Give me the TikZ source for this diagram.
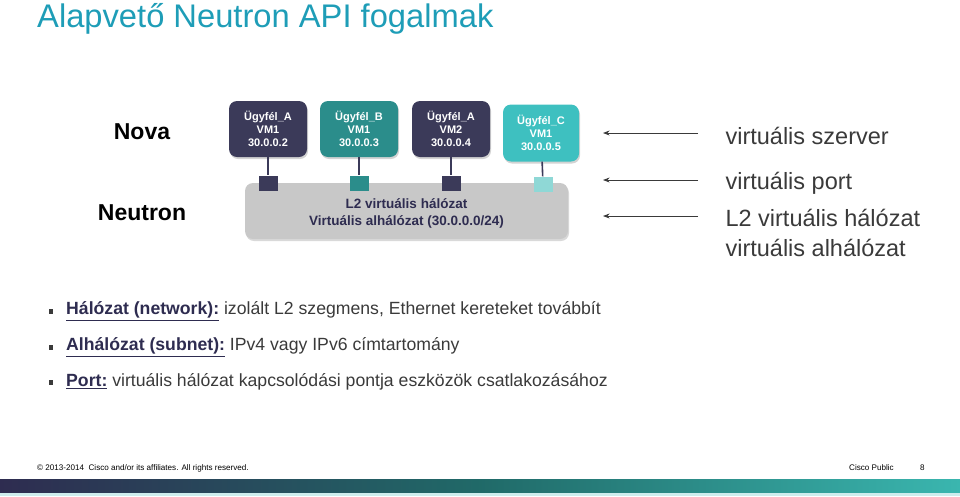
\documentclass[tikz,border=0pt]{standalone}
\usepackage{fontspec}
\setmainfont{Liberation Sans}
\usepackage{xcolor}
\usetikzlibrary{positioning,arrows.meta,shadows}

\definecolor{titleteal}{HTML}{1E9DB7}
\definecolor{vmdark}{HTML}{3B3A59}
\definecolor{vmteal}{HTML}{2B8D8B}
\definecolor{vmlight}{HTML}{3EC0C0}
\definecolor{portlight}{HTML}{8FD8D6}
\definecolor{netgray}{HTML}{C8C8C8}
\definecolor{textnavy}{HTML}{2E2C50}
\definecolor{bodygray}{HTML}{3A3A3A}
\definecolor{barend}{HTML}{3AB6AF}

\begin{document}
\begin{tikzpicture}[
  x=1pt, y=-1pt,
  vm/.style={rounded corners=8pt, text=white, align=center, minimum width=78pt, minimum height=56pt,
    font=\fontsize{11}{13}\selectfont\bfseries, drop shadow={opacity=0.35, shadow xshift=1pt, shadow yshift=-2pt}},
  port/.style={minimum width=19pt, minimum height=15pt, inner sep=0pt},
  lbl/.style={anchor=west, text=bodygray, font=\fontsize{23.5}{28}\selectfont},
  side/.style={font=\fontsize{23}{28}\selectfont\bfseries},
  bullet/.style={anchor=west, text=bodygray, font=\fontsize{17.65}{21}\selectfont, inner sep=0pt},
  foot/.style={anchor=west, inner sep=0pt, font=\fontsize{8.1}{10}\selectfont},
  >=Stealth
]
\useasboundingbox (0,0) rectangle (960,496);

% title
\node[anchor=base west, inner sep=0pt, text=titleteal, font=\fontsize{32.7}{38}\selectfont] (title) at (37,27) {Alapvető Neutron API fogalmak};

% Nova / Neutron
\node[side] (nova) at (142,132) {Nova};
\node[side] (neutron) at (142,213) {Neutron};

% network
\node[fill=netgray, rounded corners=8pt, minimum width=323pt, minimum height=56pt, align=center,
  text=textnavy, font=\fontsize{13.5}{17}\selectfont\bfseries,
  drop shadow={opacity=0.3, shadow xshift=1pt, shadow yshift=-2pt}] (net) at (406.5,211)
  {\\[-2pt]L2 virtuális hálózat\\Virtuális alhálózat (30.0.0.0/24)};

% VMs
\node[vm, fill=vmdark] (vm1) at (268,129) {Ügyfél\_A\\VM1\\30.0.0.2};
\node[vm, fill=vmteal] (vm2) at (359,129) {Ügyfél\_B\\VM1\\30.0.0.3};
\node[vm, fill=vmdark] (vm3) at (451,129) {Ügyfél\_A\\VM2\\30.0.0.4};
\node[vm, fill=vmlight, minimum width=76pt, minimum height=57pt] (vm4) at (541,133) {Ügyfél\_C\\VM1\\30.0.0.5};

% ports
\node[port, fill=vmdark] (p1) at (268,183) {};
\node[port, fill=vmteal] (p2) at (359,183) {};
\node[port, fill=vmdark] (p3) at (451,183) {};
\node[port, fill=portlight] (p4) at (543,184) {};

\foreach \i in {1,...,4}
  \draw[line width=1.6pt, vmdark] (vm\i) -- (p\i);

% right side labels
\node[lbl] (szerver) at (722,136) {virtuális szerver};
\node[lbl] (vport) at (722,183) {virtuális port};
\node[lbl] (l2net) at (722,218) {L2 virtuális hálózat};
\node[lbl] (alnet) at (722,248) {virtuális alhálózat};

\coordinate (s1) at (698,133);
\coordinate (e1) at (603,133);
\coordinate (s2) at (698,180);
\coordinate (e2) at (603,180);
\coordinate (s3) at (698,216);
\coordinate (e3) at (603,216);
\foreach \i in {1,2,3}
  \draw[->, line width=0.8pt, bodygray] (s\i) -- (e\i);

% bullets
\foreach \y/\n in {311/b1,347/b2,382/b3}
  \node[fill=bodygray, minimum width=3.5pt, minimum height=5pt, inner sep=0pt] (\n) at (51,\y) {};
\node[bullet] (t1) at (66,311) {\textcolor{textnavy}{\textbf{\underline{Hálózat (network):}}} izolált L2 szegmens, Ethernet kereteket továbbít};
\node[bullet] (t2) at (66,347) {\textcolor{textnavy}{\textbf{\underline{Alhálózat (subnet):}}} IPv4 vagy IPv6 címtartomány};
\node[bullet] (t3) at (66,382) {\textcolor{textnavy}{\textbf{\underline{Port:}}} virtuális hálózat kapcsolódási pontja eszközök csatlakozásához};

% footer
\node[foot] (copy) at (37,468) {© 2013-2014\ \ Cisco and/or its affiliates. All rights reserved.};
\node[foot] (public) at (849,468) {Cisco Public};
\node[foot] (page) at (920,468) {8};
\shade[left color=textnavy, right color=barend, middle color=vmteal!75!black] (0,479) rectangle (960,493);
\fill[portlight!45!white] (0,493) rectangle (960,496);
\end{tikzpicture}
\end{document}
